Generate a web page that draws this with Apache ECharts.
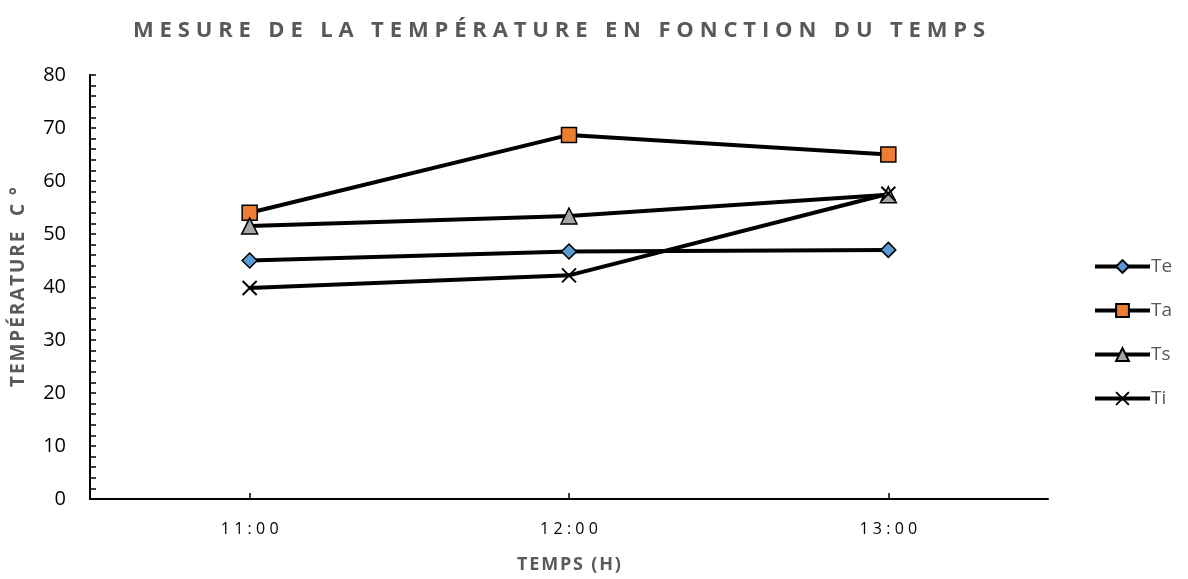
<!DOCTYPE html>
<html>
<head>
<meta charset="utf-8">
<script src="https://cdn.jsdelivr.net/npm/echarts@6/dist/echarts.min.js"></script>
<style>
  html, body {margin: 0; padding: 0; background: #fff;}
  #main {width: 1188px; height: 579px;}
</style>
</head>
<body>
<div id="main"></div>
<script>
  const hours = ['11:00', '12:00', '13:00'];
  const te = [45, 46.7, 47];
  const ta = [54, 68.7, 65];
  const ts = [51.5, 53.4, 57.4];
  const ti = [39.8, 42.2, 57.6];
  const yTicks = [0, 80, 10];

  const spaced = (s, gap) => s.split('').join(gap || '\u2009');
  const crossPath = 'path://M0,0L10,10M10,0L0,10';

  const chart = echarts.init(document.getElementById('main'));
  const line = (name, data, symbol, size, fill) => ({
    name: name,
    type: 'line',
    data: data,
    symbol: symbol,
    symbolSize: size,
    xAxisIndex: 0,
    lineStyle: {color: '#000', width: 4},
    itemStyle: fill
      ? {color: fill, borderColor: '#000', borderWidth: 1.5}
      : {color: 'rgba(0,0,0,0)', borderColor: '#000', borderWidth: 2},
    emphasis: {disabled: true},
    z: 3
  });

  chart.setOption({
    animation: false,
    title: {
      text: spaced('MESURE DE LA TEMPÉRATURE EN FONCTION DU TEMPS', '\u2009\u200a'),
      left: 128,
      top: 15,
      textStyle: {fontFamily: 'Open Sans', fontWeight: 'bold', fontSize: 22, color: '#595959'}
    },
    legend: {
      orient: 'vertical',
      left: 1088,
      top: 252,
      itemGap: 25,
      itemWidth: 55,
      itemHeight: 16,
      lineStyle: {width: 4, color: '#000'},
      textStyle: {fontFamily: 'Open Sans', fontSize: 19, color: '#595959', padding: [0, 0, 0, -4]},
      data: ['Te', 'Ta', 'Ts', 'Ti']
    },
    grid: {left: 90, right: 140, top: 75, bottom: 77},
    xAxis: [
      {
        type: 'category',
        data: hours.map(h => spaced(h, '\u2009\u200a')),
        boundaryGap: true,
        name: spaced('TEMPS (H)', '\u200a'),
        nameLocation: 'middle',
        nameGap: 57,
        nameTextStyle: {fontFamily: 'Open Sans', fontWeight: 'bold', fontSize: 18, color: '#595959'},
        axisLine: {lineStyle: {color: '#000', width: 2}},
        axisTick: {inside: true, length: 6, interval: 0, lineStyle: {color: '#000', width: 1.5}},
        axisLabel: {fontFamily: 'Open Sans', fontSize: 16, color: '#000', margin: 22},
        splitLine: {show: false}
      },
      {
        type: 'category',
        data: hours,
        boundaryGap: true,
        position: 'bottom',
        axisLine: {show: true, lineStyle: {color: 'rgba(0,0,0,0)'}},
        axisTick: {show: true, inside: true, alignWithLabel: true, length: 6, lineStyle: {color: '#000', width: 1.5}},
        axisLabel: {show: false},
        splitLine: {show: false}
      }
    ],
    yAxis: {
      type: 'value',
      min: yTicks[0],
      max: yTicks[1],
      interval: yTicks[2],
      name: spaced('TEMPÉRATURE  C °', '\u200a'),
      nameLocation: 'middle',
      nameGap: 62,
      nameTextStyle: {fontFamily: 'Open Sans', fontWeight: 'bold', fontSize: 19, color: '#595959'},
      axisLine: {show: true, lineStyle: {color: '#000', width: 2}},
      axisTick: {show: true, inside: true, length: 6, lineStyle: {color: '#000', width: 1.5}},
      minorTick: {show: true, splitNumber: 5, length: 6, lineStyle: {color: '#000', width: 1.5}},
      axisLabel: {fontFamily: 'Open Sans', fontSize: 20, color: '#000', margin: 24},
      splitLine: {show: false}
    },
    series: [
      line('Te', te, 'diamond', 15, '#5B9BD5'),
      line('Ta', ta, 'rect', 15, '#ED7D31'),
      line('Ts', ts, 'triangle', 16, '#A5A5A5'),
      line('Ti', ti, crossPath, 14, null)
    ]
  });
</script>
</body>
</html>
